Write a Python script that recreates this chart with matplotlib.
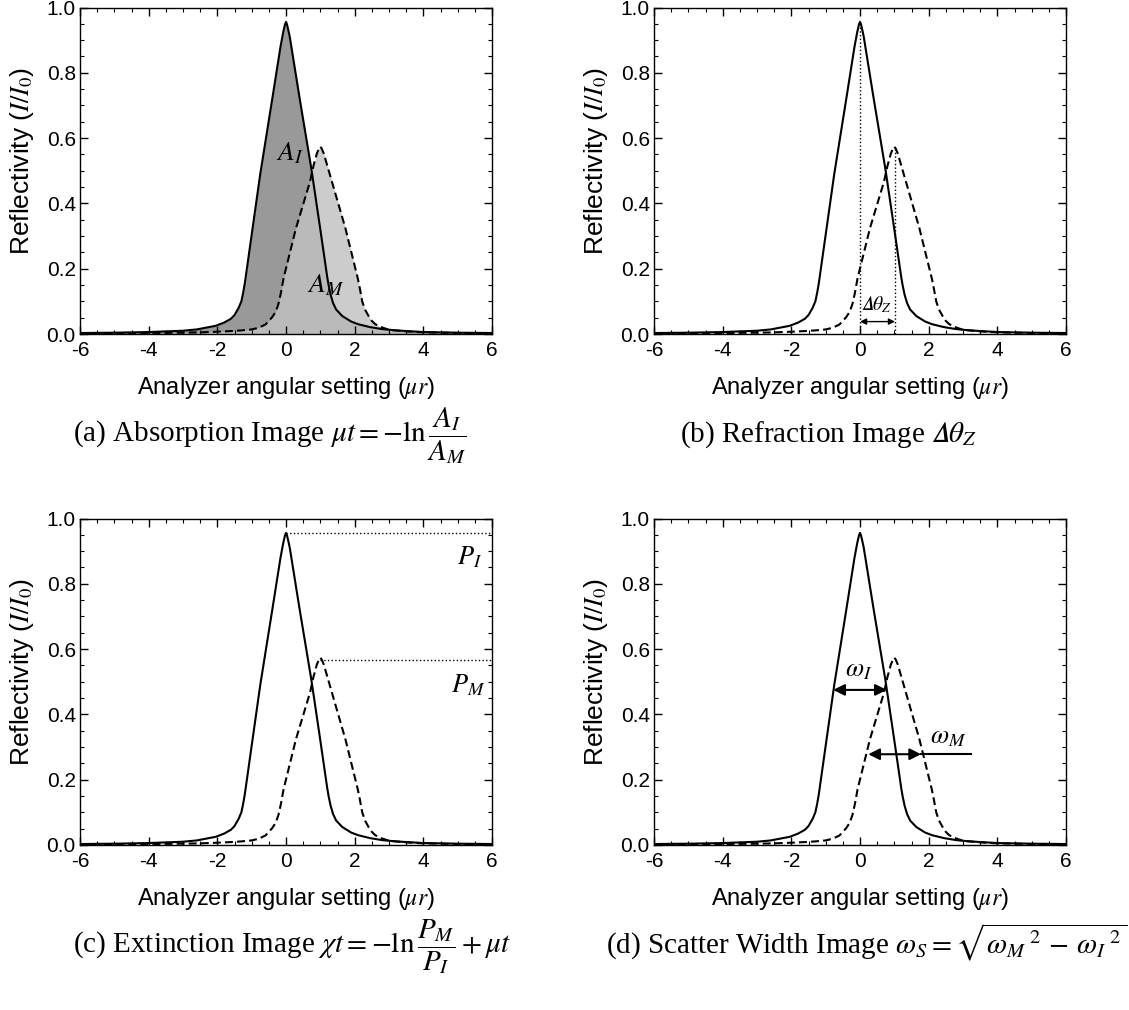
import matplotlib
matplotlib.use("Agg")
import matplotlib.pyplot as plt
from matplotlib.ticker import MultipleLocator

plt.rcParams['font.family'] = ['Liberation Sans', 'DejaVu Sans']
plt.rcParams['mathtext.fontset'] = 'stix'
plt.rcParams['axes.unicode_minus'] = False

# rocking curve without object (solid)
x_inc = [-6, -5, -4, -3.5, -3, -2.6, -2.05, -1.8, -1.6, -1.5, -1.38, -1.3, -1.25,
         -1.2, -0.75, -0.4, -0.16, -0.08, -0.03, 0, 0.03, 0.08, 0.11, 0.4, 0.74,
         1.0, 1.2, 1.24, 1.3, 1.37, 1.46, 1.64, 1.9, 2.1, 2.45, 2.8, 3.2, 4, 5, 6]
r_inc = [0.003, 0.004, 0.006, 0.008, 0.010, 0.014, 0.025, 0.035, 0.047, 0.058,
         0.08, 0.10, 0.125, 0.155, 0.49, 0.72, 0.88, 0.925, 0.948, 0.956, 0.948,
         0.925, 0.91, 0.72, 0.505, 0.32, 0.175, 0.15, 0.12, 0.095, 0.075, 0.055,
         0.038, 0.030, 0.021, 0.015, 0.011, 0.006, 0.004, 0.003]

# rocking curve with object (dashed)
x_obj = [-6, -5, -4, -3, -2.5, -2, -1.6, -1.3, -1.0, -0.8, -0.6, -0.5, -0.4, -0.3,
         -0.22, -0.15, -0.07, 0.29, 0.7, 0.8, 0.9, 0.96, 1.0, 1.04, 1.1, 1.24,
         1.73, 2.09, 2.15, 2.22, 2.3, 2.4, 2.5, 2.6, 2.8, 3.0, 3.5, 4, 5, 6]
r_obj = [0.001, 0.002, 0.003, 0.004, 0.005, 0.007, 0.009, 0.011, 0.014, 0.019,
         0.029, 0.040, 0.052, 0.068, 0.092, 0.125, 0.171, 0.324, 0.467, 0.515,
         0.553, 0.568, 0.574, 0.568, 0.553, 0.502, 0.324, 0.171, 0.14, 0.10,
         0.075, 0.056, 0.040, 0.030, 0.020, 0.013, 0.008, 0.005, 0.003, 0.002]

xticks = [-6, -4, -2, 0, 2, 4, 6]
yticks = [0.0, 0.2, 0.4, 0.6, 0.8, 1.0]

captions = [r'(a) Absorption Image $\mu t = -\ln\dfrac{A_I}{A_M}$',
            r'(b) Refraction Image $𝛥\theta_Z$',
            r'(c) Extinction Image $\chi t = -\ln\dfrac{P_M}{P_I} + \mu t$',
            r'(d) Scatter Width Image $\omega_S = \sqrt{{\omega_M}^{\ 2} \,-\, {\omega_I}^{\ 2}}$']

W, H = 1129, 1010
fig = plt.figure(figsize=(W / 100, H / 100), dpi=100)

boxes = [(80, 7.5), (654, 7.5), (80, 518.5), (654, 518.5)]
axs = []
for (l, t) in boxes:
    ax = fig.add_axes([l / W, (H - t - 326.5) / H, 412 / W, 326.5 / H])
    axs.append(ax)

dash = (0, (3.8, 2.0))

for ax in axs:
    ax.set_xlim(-6, 6)
    ax.set_ylim(0, 1)
    ax.set_xticks(xticks)
    ax.set_xticklabels([str(v) for v in xticks])
    ax.set_yticks(yticks)
    ax.set_yticklabels(['%.1f' % v for v in yticks])
    ax.xaxis.set_minor_locator(MultipleLocator(0.5))
    ax.yaxis.set_minor_locator(MultipleLocator(0.05))
    ax.tick_params(which='both', direction='in', top=True, right=True, labelsize=15, pad=3)
    ax.tick_params(axis='x', which='major', pad=5)
    ax.tick_params(which='major', length=5.5, width=1)
    ax.tick_params(which='minor', length=2.7, width=0.8)
    for s in ax.spines.values():
        s.set_linewidth(1.0)
    ax.set_xlabel(r'Analyzer angular setting ($\mu r$)', fontsize=17, va='center')
    ax.xaxis.set_label_coords(0.5, -0.165)
    ax.set_ylabel(r'Reflectivity ($I/I_0$)', fontsize=19, va='center')
    ax.yaxis.set_label_coords(-0.141, 0.53)

# (a) areas
ax = axs[0]
ax.fill_between(x_inc, r_inc, color='#999999', lw=0)
ax.plot(x_inc, r_inc, color='k', lw=1.5)
ax.fill_between(x_obj, r_obj, color=(0.76, 0.76, 0.76), alpha=0.83, lw=0)
ax.plot(x_obj, r_obj, color='k', lw=1.5, linestyle=dash)
ax.text(0.12, 0.553, r'$A_I$', fontsize=20, ha='center', va='center')
ax.text(1.15, 0.15, r'$A_M$', fontsize=20, ha='center', va='center')

# (b) shift
ax = axs[1]
ax.plot(x_inc, r_inc, color='k', lw=1.5)
ax.plot(x_obj, r_obj, color='k', lw=1.5, linestyle=dash)
ax.plot([0, 0], [0, 0.956], color='k', lw=1, linestyle=':')
ax.plot([1.02, 1.02], [0, 0.574], color='k', lw=1, linestyle=':')
ax.annotate('', xy=(1.02, 0.038), xytext=(0, 0.038),
            arrowprops=dict(arrowstyle='<|-|>', color='k', lw=1, mutation_scale=9,
                            shrinkA=0, shrinkB=0))
ax.text(0.49, 0.09, r'$𝛥\theta_Z$', fontsize=14, ha='center', va='center')

# (c) peaks
ax = axs[2]
ax.plot(x_inc, r_inc, color='k', lw=1.5)
ax.plot(x_obj, r_obj, color='k', lw=1.5, linestyle=dash)
ax.plot([0, 6], [0.956, 0.956], color='k', lw=1, linestyle=':')
ax.plot([1, 6], [0.566, 0.566], color='k', lw=1, linestyle=':')
ax.text(5.36, 0.88, r'$P_I$', fontsize=19, ha='center', va='center')
ax.text(5.3, 0.49, r'$P_M$', fontsize=19, ha='center', va='center')

# (d) widths
ax = axs[3]
ax.plot(x_inc, r_inc, color='k', lw=1.5)
ax.plot(x_obj, r_obj, color='k', lw=1.5, linestyle=dash)
ax.annotate('', xy=(0.78, 0.475), xytext=(-0.78, 0.475),
            arrowprops=dict(arrowstyle='<|-|>', color='k', lw=1.5, mutation_scale=17,
                            shrinkA=0, shrinkB=0))
ax.annotate('', xy=(1.78, 0.278), xytext=(0.24, 0.278),
            arrowprops=dict(arrowstyle='<|-|>', color='k', lw=1.5, mutation_scale=17,
                            shrinkA=0, shrinkB=0))
ax.plot([1.78, 3.23], [0.278, 0.278], color='k', lw=1.5)
ax.text(-0.05, 0.536, r'$\omega_I$', fontsize=19, ha='center', va='center')
ax.text(2.57, 0.33, r'$\omega_M$', fontsize=19, ha='center', va='center')

cap_x = [73, 680, 73, 1127]
cap_ha = ['left', 'left', 'left', 'right']
cap_base = [442, 442, 953, 953]
for i in range(4):
    fig.text(cap_x[i] / W, (H - cap_base[i]) / H, captions[i], fontsize=21,
             family=['Liberation Serif', 'DejaVu Serif'], ha=cap_ha[i], va='baseline')

fig.savefig('out.png', dpi=100)
